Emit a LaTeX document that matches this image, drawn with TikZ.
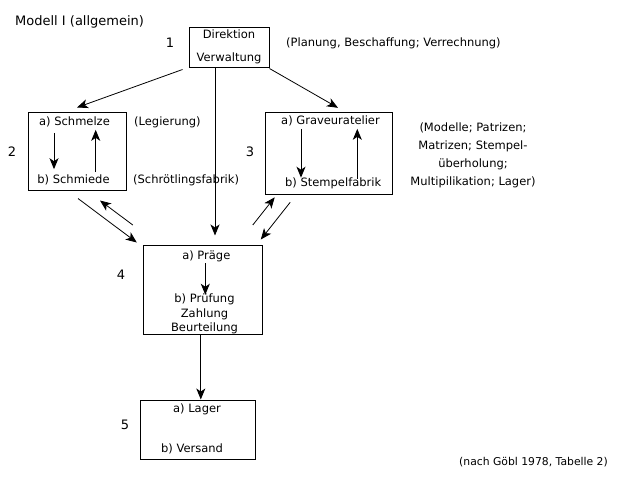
\documentclass[tikz,border=0pt]{standalone}
\usepackage{fontspec}
\setmainfont{DejaVu Sans}
\usetikzlibrary{arrows.meta}
\begin{document}
\begin{tikzpicture}[x=1pt,y=-1pt,
    box/.style={draw,line width=1pt,inner sep=0pt},
    txt/.style={inner sep=1pt,text height=8.5pt,text depth=2.7pt,font=\fontsize{11.5}{14.5}\selectfont},
    para/.style={inner sep=1pt,align=center},
    big/.style={inner sep=1pt,font=\fontsize{13}{15}\selectfont},
    arr/.style={-{Stealth[length=11pt,width=9pt,inset=3pt]},line width=0.8pt},
    inarr/.style={arr,line width=1pt}]
  \useasboundingbox (0,0) rectangle (640,480);
  \node[big,anchor=west] (titel) at (14,22) {Modell I (allgemein)};
  \foreach \n/\x/\y in {1/170/43,2/12/152,3/250/152,4/121/275,5/125/425}
      \node[big] (nr\n) at (\x,\y) {\n};
  % Kaesten
  \node[box,minimum width=80pt,minimum height=40pt] (dir) at (229,47) {};
  \node[box,minimum width=98pt,minimum height=78pt] (schm) at (77,151) {};
  \node[box,minimum width=126.6pt,minimum height=82pt] (grav) at (329,153.3) {};
  \node[box,minimum width=119pt,minimum height=89pt] (praeg) at (202.8,290) {};
  \node[box,minimum width=115pt,minimum height=59pt] (lag) at (197.5,429.5) {};
  % Texte
  \node[txt] (direktion) at (229,35.5) {Direktion};
  \node[txt] (verwaltung) at (229,58.5) {Verwaltung};
  \node[txt] (schmelze) at (74.5,123) {a) Schmelze};
  \node[txt] (schmiede) at (73.5,181) {b) Schmiede};
  \node[txt] (graveur) at (330.5,122) {a) Graveuratelier};
  \node[txt] (stempel) at (333.2,183.5) {b) Stempelfabrik};
  \node[txt] (praege) at (206.3,256.5) {a) Präge};
  \node[para,font=\fontsize{11.5}{14.5}\selectfont] (pruefung) at (204.5,314) {b) Prüfung\\Zahlung\\Beurteilung};
  \node[txt] (lager) at (197,409.5) {a) Lager};
  \node[txt] (versand) at (192,449.5) {b) Versand};
  % Anmerkungen
  \node[txt,anchor=west] (planung) at (285,43.5) {(Planung, Beschaffung; Verrechnung)};
  \node[txt,anchor=west] (legierung) at (133,122.5) {(Legierung)};
  \node[txt,anchor=west] (schroetling) at (132,180.5) {(Schrötlingsfabrik)};
  \node[para,font=\fontsize{11.5}{18}\selectfont] (modelle) at (473,155.5) {(Modelle; Patrizen;\\Matrizen; Stempel-\\überholung;\\Multipilikation; Lager)};
  \node[txt,anchor=west,font=\fontsize{10.8}{13}\selectfont] (quelle) at (458,462.5) {(nach Göbl 1978, Tabelle 2)};
  % Pfeile innen
  \draw[inarr,shorten <=3pt,shorten >=5pt] ([xshift=-20.5pt]schmelze.south) -- ([xshift=-19.5pt]schmiede.north);
  \draw[inarr,shorten <=2pt] ([xshift=22.2pt]schmiede.north) -- ([xshift=21.2pt]schmelze.south);
  \draw[inarr,shorten >=-1pt] ([xshift=-29.5pt]graveur.south) -- ([xshift=-32.2pt]stempel.north);
  \draw[inarr,shorten <=-2pt] ([xshift=24.1pt]stempel.north) -- ([xshift=26.8pt]graveur.south);
  \draw[inarr,shorten >=-2pt] ([xshift=-1pt]praege.south) -- ([xshift=-1pt]praege.south |- pruefung.north);
  % Pfeile zwischen den Kaesten
  \draw[arr] ([shift={(-6,2)}]dir.south west) -- ([yshift=4pt]schm.north);
  \draw[arr] ([shift={(0,1)}]dir.south east) -- ([shift={(9,-4)}]grav.north);
  \draw[inarr,shorten >=9.5pt] ([xshift=-14pt]dir.south) -- ([xshift=-14pt]dir.south |- praeg.north);
  \draw[arr] ([shift={(1,8)}]schm.south) -- ([shift={(-6,-2.5)}]praeg.north west);
  \draw[arr] ([shift={(-10,-20)}]praeg.north west) -- ([shift={(23,10)}]schm.south);
  \draw[arr] ([shift={(-10,-20)}]praeg.north east) -- ([shift={(9.5,2.5)}]grav.south west);
  \draw[arr] ([shift={(25,7.5)}]grav.south west) -- ([shift={(-2,-5.5)}]praeg.north east);
  \draw[inarr] ([xshift=-2pt]praeg.south) -- ([xshift=-2pt]praeg.south |- lag.north);
\end{tikzpicture}
\end{document}
